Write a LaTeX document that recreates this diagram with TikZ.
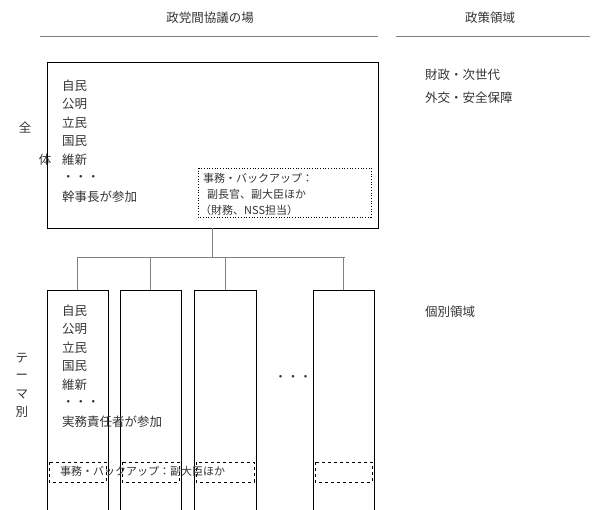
\documentclass[tikz,border=0pt]{standalone}
\usepackage{fontspec}
\setmainfont{Noto Sans CJK JP}
\usetikzlibrary{positioning}
\definecolor{ink}{HTML}{333333}
\tikzstyle{txt} = [inner sep=0pt, anchor=west, text=ink, font=\fontsize{12.5}{14}\selectfont]
\tikzstyle{panel} = [draw=black, line width=0.8pt]
\tikzstyle{backup} = [draw=black, dashed, line width=0.6pt]

\begin{document}
\begin{tikzpicture}[x=1pt, y=-1pt]
	\useasboundingbox (0,0) rectangle (600,510);
	% headings
	\node [txt, anchor=center] (hdforum) at (210,18) {政党間協議の場};
	\node [txt, anchor=center] (hdfield) at (490,18) {政策領域};
	\draw [gray] (40,36) -- (378,36);
	\draw [gray] (396,36) -- (590,36);
	% whole
	\node [txt, anchor=center] (zen) at (25,128) {全};
	\node [txt, anchor=center] (tai) at (45,160) {体};
	\draw [panel] (47,62) rectangle (378,228);
	\coordinate (topbot) at (212,228);
	\foreach \t [count=\i] in {自民,公明,立民,国民,維新,・・・,幹事長が参加}
		\node [txt] (top\i) at (62,{67+18.5*\i}) {\t};
	\draw [dotted, line width=0.7pt] (198,168) rectangle (371,217);
	\node [txt, font=\fontsize{11}{13}\selectfont] (bk1) at (203,178) {事務・バックアップ：};
	\node [txt, font=\fontsize{11}{13}\selectfont] (bk2) at (207,194) {副長官、副大臣ほか};
	\node [txt, font=\fontsize{11}{13}\selectfont] (bk3) at (200,210) {（財務、NSS担当）};
	\node [txt] (fld1) at (425,75) {財政・次世代};
	\node [txt] (fld2) at (425,98) {外交・安全保障};
	% themes
	\foreach \c/\y in {テ/358, ー/377, マ/395, 別/412}
		\node [txt, anchor=center] at (22,\y) {\c};
	\coordinate (hub) at (212,257);
	\draw [gray] (topbot) -- (hub);
	\draw [gray] (78,257) -- (345,257);
	\foreach \l/\r [count=\i] in {47/108, 120/181, 194/256, 313/374} {
		\draw [panel] (\l,290) rectangle (\r,512);
		\draw [gray] ({(\l+\r)/2},257) -- ({(\l+\r)/2},290);
		\draw [backup] (\l+2,462) rectangle (\r-2,482);
	}
	\foreach \t [count=\i] in {自民,公明,立民,国民,維新,・・・,実務責任者が参加}
		\node [txt] (th\i) at (62,{292+18.5*\i}) {\t};
	\node [txt, font=\fontsize{11}{13}\selectfont] (thbk) at (60,471) {事務・バックアップ：副大臣ほか};
	\node [txt, anchor=center] (more) at (293,378) {・・・};
	\node [txt] (fld3) at (425,312) {個別領域};
\end{tikzpicture}
\end{document}
